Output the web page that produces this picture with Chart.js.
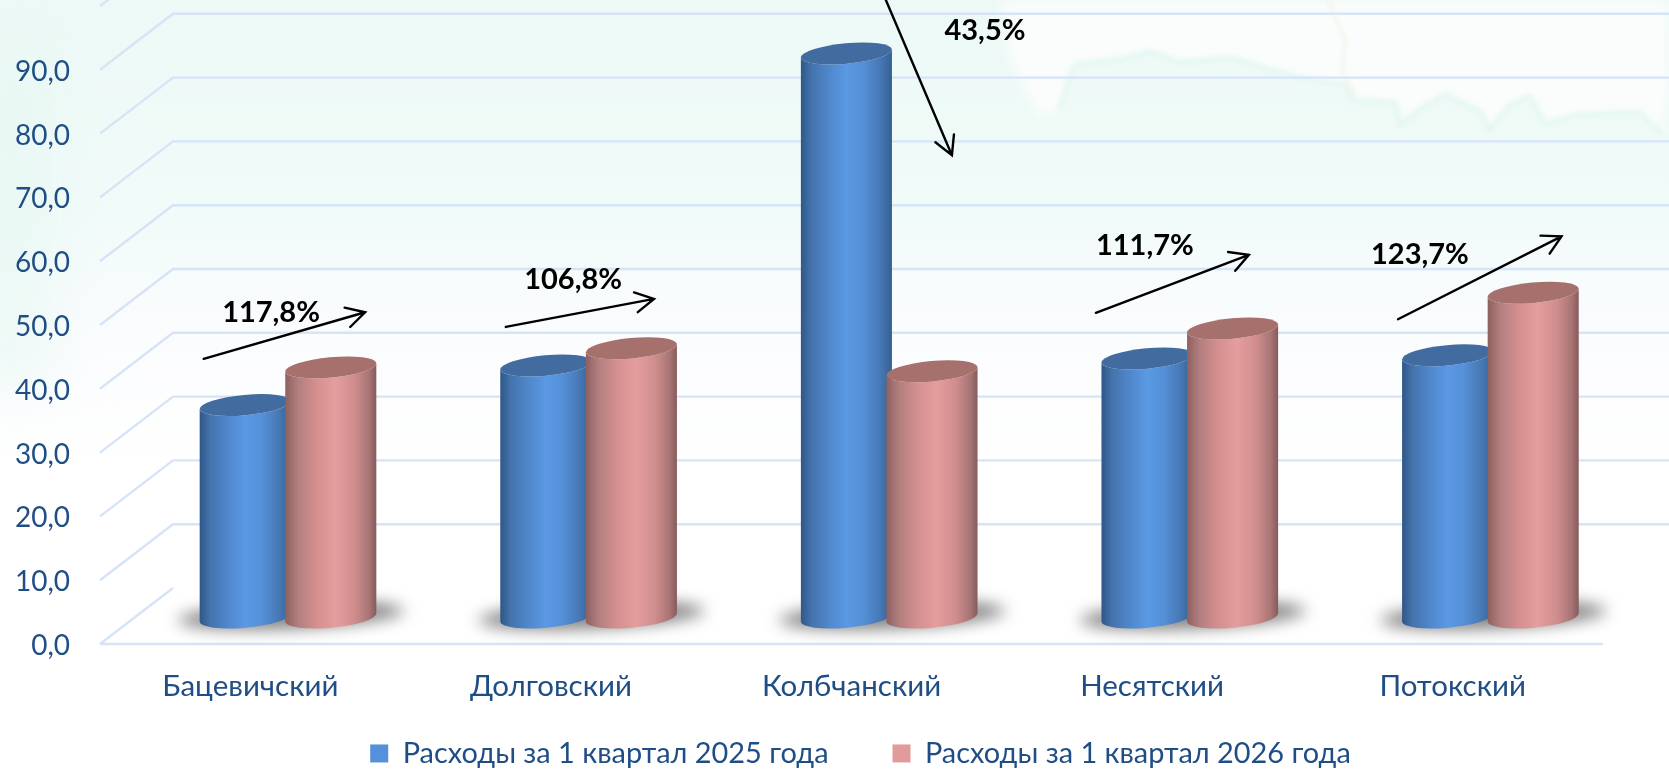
<!DOCTYPE html>
<html lang="ru">
<head>
<meta charset="utf-8">
<title>Расходы</title>
<script src="https://cdn.jsdelivr.net/npm/chart.js@4"></script>
<style>html,body{margin:0;padding:0;background:#fff}canvas{display:block}</style>
</head>
<body>
<canvas id="c" width="1669" height="770"></canvas>
<script>
const categories = ['Бацевичский', 'Долговский', 'Колбчанский', 'Несятский', 'Потокский'];
const seriesNames = ['Расходы за 1 квартал 2025 года', 'Расходы за 1 квартал 2026 года'];
const expenses2025 = [33.3, 39.5, 88.4, 40.6, 41.1];
const expenses2026 = [39.2, 42.2, 38.6, 45.3, 50.9];
const yTicks = [0, 10, 20, 30, 40, 50, 60, 70, 80, 90, 100];

// growth notes, placed in axis units (category index, value)
const noteTexts = ['117,8%', '106,8%', '43,5%', '111,7%', '123,7%'];
const noteTextAt = [[0.069, 51.9], [1.074, 57.1], [2.444, 96.2], [2.976, 62.4], [3.891, 61.1]];
const arrowFrom = [[-0.155, 44.7], [0.85, 49.7], [2.111, 101.3], [2.813, 51.9], [3.818, 50.9]];
const arrowTo = [[0.382, 52.0], [1.343, 54.1], [2.334, 76.6], [3.322, 61.0], [4.362, 63.9]];

const FONT = 'Lato, "Open Sans"';
const TEXT = '#1f4e86';
const GRID = '#d6e4f6';
const DEPTH_X = 73, DEPTH_Y = 56;           // back wall offset of the pseudo-3D box
const BAR_DX = 37.7, BAR_DY = 26.5;         // cylinders stand in the middle of the floor
const TILT = -5.3 * Math.PI / 180;
const SKEW = 4.25, MINOR = 10.2;

const looks = {
  '#5590dc': {
    top: '#426c9f',
    stops: [[0, '#2f5788'], [0.12, '#4574ad'], [0.3, '#4f86cb'], [0.5, '#5a99e3'], [0.68, '#5590d8'], [0.88, '#4677b3'], [1, '#345f92']]
  },
  '#e29b9b': {
    top: '#a6706c',
    stops: [[0, '#8f6060'], [0.14, '#b27f7f'], [0.34, '#d58f8f'], [0.55, '#e59d9d'], [0.76, '#d08d8d'], [0.92, '#a87575'], [1, '#875a5a']]
  }
};

class CylinderElement extends Chart.BarElement {
  draw(ctx) {
    const {x, y, base, width} = this.getProps(['x', 'y', 'base', 'width']);
    const look = looks[this.options.backgroundColor];
    const cx = x + BAR_DX, top = y - BAR_DY, bot = base - BAR_DY;
    const a = width / 2 / Math.cos(TILT), hw = width / 2;
    const g = ctx.createLinearGradient(cx - hw, 0, cx + hw, 0);
    look.stops.forEach(s => g.addColorStop(s[0], s[1]));
    ctx.save();
    ctx.beginPath();
    ctx.moveTo(cx - hw, top + SKEW);
    ctx.lineTo(cx - hw, bot + SKEW);
    ctx.ellipse(cx, bot, a, MINOR, TILT, Math.PI, 0, true);
    ctx.lineTo(cx + hw, top - SKEW);
    ctx.ellipse(cx, top, a, MINOR, TILT, 0, Math.PI, false);
    ctx.closePath();
    ctx.fillStyle = g;
    ctx.fill();
    ctx.beginPath();
    ctx.ellipse(cx, top, a, MINOR, TILT, 0, Math.PI * 2);
    ctx.fillStyle = look.top;
    ctx.fill();
    ctx.restore();
  }
}
CylinderElement.id = 'cylinder';
CylinderElement.defaults = Chart.BarElement.defaults;

class CylinderController extends Chart.BarController {
  // the 2026 cylinders stand in front of the 2025 ones, so paint series in index order
  draw() {
    if (this.index !== 0) return;
    super.draw();
    const later = this.chart.getDatasetMeta(1).controller;
    Chart.BarController.prototype.draw.call(later);
  }
}
CylinderController.id = 'cylinderBar';
CylinderController.defaults = Object.assign({}, Chart.BarController.defaults, {dataElementType: 'cylinder'});
CylinderController.overrides = Chart.BarController.overrides;
Chart.register(CylinderElement, CylinderController);

const backdrop = {
  id: 'backdrop',
  beforeDraw(chart) {
    const {ctx, width, height} = chart;
    ctx.save();
    const v = ctx.createLinearGradient(0, 0, 0, height);
    v.addColorStop(0, '#ecf9f6');
    v.addColorStop(0.27, '#f1fbf9');
    v.addColorStop(0.44, '#fbfcfe');
    v.addColorStop(0.6, '#ffffff');
    v.addColorStop(1, '#ffffff');
    ctx.fillStyle = v;
    ctx.fillRect(0, 0, width, height);
    // soft darker wash at the left edge
    ctx.filter = 'blur(30px)';
    ctx.fillStyle = 'rgba(226,246,240,0.6)';
    ctx.fillRect(-40, 60, 90, 330);
    // faint land outline of the slide background
    const coast = [[1000,0],[1010,60],[1040,118],[1060,108],[1075,65],[1120,60],[1150,52],[1180,63],[1230,58],[1270,70],[1300,78],[1345,85],[1352,100],[1395,103],[1400,125],[1420,110],[1445,95],[1480,112],[1490,130],[1510,105],[1530,97],[1545,125],[1575,115],[1640,113],[1662,135],[1669,90],[1669,0]];
    ctx.beginPath();
    coast.forEach((p, i) => i ? ctx.lineTo(p[0], p[1]) : ctx.moveTo(p[0], p[1]));
    ctx.closePath();
    ctx.fillStyle = 'rgba(255,254,254,0.72)';
    ctx.filter = 'blur(6px)';
    ctx.fill();
    ctx.filter = 'blur(2px)';
    ctx.beginPath();
    coast.slice(3, 25).forEach((p, i) => i ? ctx.lineTo(p[0], p[1]) : ctx.moveTo(p[0], p[1]));
    ctx.strokeStyle = 'rgba(205,242,232,0.4)';
    ctx.lineWidth = 5;
    ctx.stroke();
    ctx.beginPath();
    ctx.moveTo(1328, 0); ctx.lineTo(1345, 40); ctx.lineTo(1342, 70); ctx.lineTo(1354, 95);
    ctx.strokeStyle = 'rgba(240,238,220,0.6)';
    ctx.lineWidth = 3;
    ctx.stroke();
    ctx.filter = 'none';
    ctx.restore();
  }
};

const box3d = {
  id: 'box3d',
  afterLayout(chart) {
    // legend row sits closer to the axis than its item spacing would allow
    chart.legend.top = chart.scales.x.bottom - 35;
    chart.legend.left += 59;
    chart.legend.right += 59;
  },
  beforeDatasetsDraw(chart) {
    const {ctx, scales: {x, y}, chartArea: a} = chart;
    ctx.save();
    ctx.strokeStyle = GRID;
    ctx.lineWidth = 2.4;
    y.ticks.forEach(t => {
      const py = y.getPixelForValue(t.value);
      ctx.beginPath();
      ctx.moveTo(a.left, py);
      ctx.lineTo(a.left + DEPTH_X, py - DEPTH_Y);
      if (t.value !== 0) ctx.lineTo(a.right + DEPTH_X, py - DEPTH_Y);
      ctx.stroke();
    });
    const py0 = y.getPixelForValue(0);
    ctx.beginPath();
    ctx.moveTo(a.left, py0);
    ctx.lineTo(a.right, py0);
    ctx.stroke();
    // soft floor shadows below each pair of cylinders
    ctx.filter = 'blur(8px)';
    ctx.fillStyle = 'rgba(95,95,95,0.78)';
    categories.forEach((_, i) => {
      ctx.beginPath();
      ctx.ellipse(x.getPixelForValue(i) + BAR_DX + 3, py0 - BAR_DY - 2, 113, 13, -2.5 * Math.PI / 180, 0, Math.PI * 2);
      ctx.fill();
    });
    ctx.filter = 'none';
    ctx.restore();
  }
};

const notes = {
  id: 'notes',
  afterDatasetsDraw(chart) {
    const {ctx, scales: {x, y}} = chart;
    const px = p => [x.getPixelForValue(p[0]), y.getPixelForValue(p[1])];
    ctx.save();
    ctx.strokeStyle = '#000';
    ctx.lineCap = 'round';
    noteTexts.forEach((txt, i) => {
      const [x0, y0] = px(arrowFrom[i]);
      const [x1, y1] = px(arrowTo[i]);
      const ang = Math.atan2(y1 - y0, x1 - x0);
      ctx.lineWidth = 2.4;
      ctx.beginPath();
      ctx.moveTo(x0, y0);
      ctx.lineTo(x1, y1);
      ctx.moveTo(x1 - 21 * Math.cos(ang - 0.5), y1 - 21 * Math.sin(ang - 0.5));
      ctx.lineTo(x1, y1);
      ctx.lineTo(x1 - 21 * Math.cos(ang + 0.5), y1 - 21 * Math.sin(ang + 0.5));
      ctx.stroke();
      const [tx, ty] = px(noteTextAt[i]);
      ctx.fillStyle = '#000';
      ctx.font = 'bold 29px ' + FONT;
      ctx.textAlign = 'center';
      ctx.textBaseline = 'middle';
      ctx.fillText(txt, tx, ty);
    });
    ctx.restore();
  }
};

new Chart(document.getElementById('c'), {
  type: 'cylinderBar',
  data: {
    labels: categories,
    datasets: [
      {label: seriesNames[0], data: expenses2025, backgroundColor: '#5590dc', categoryPercentage: 0.5694, barPercentage: 1.064},
      {label: seriesNames[1], data: expenses2026, backgroundColor: '#e29b9b', categoryPercentage: 0.5694, barPercentage: 1.064}
    ]
  },
  options: {
    responsive: false,
    animation: false,
    layout: {padding: {left: 0, right: 66, top: 6, bottom: 0}},
    plugins: {
      tooltip: {enabled: false},
      title: {display: false},
      legend: {
        position: 'bottom',
        maxHeight: 60,
        labels: {
          color: TEXT,
          font: {family: FONT, size: 28.9},
          boxWidth: 18,
          boxHeight: 18,
          padding: 64
        }
      }
    },
    scales: {
      x: {
        afterFit(s) { s.height = 66; },
        grid: {display: false},
        border: {display: false},
        ticks: {color: TEXT, font: {family: FONT, size: 29.5}, padding: 17, maxRotation: 0}
      },
      y: {
        min: 0,
        max: 100,
        afterFit(s) { s.width = 100; s.paddingTop = 0; s.paddingBottom = 0; },
        afterBuildTicks(s) { s.ticks = yTicks.map(v => ({value: v})); },
        grid: {display: false, drawTicks: false},
        border: {display: false},
        ticks: {
          color: TEXT,
          font: {family: FONT, size: 28},
          padding: 30,
          labelOffset: 2,
          callback: v => v === 100 ? '' : v.toFixed(1).replace('.', ',')
        }
      }
    }
  },
  plugins: [backdrop, box3d, notes]
});
</script>
</body>
</html>
